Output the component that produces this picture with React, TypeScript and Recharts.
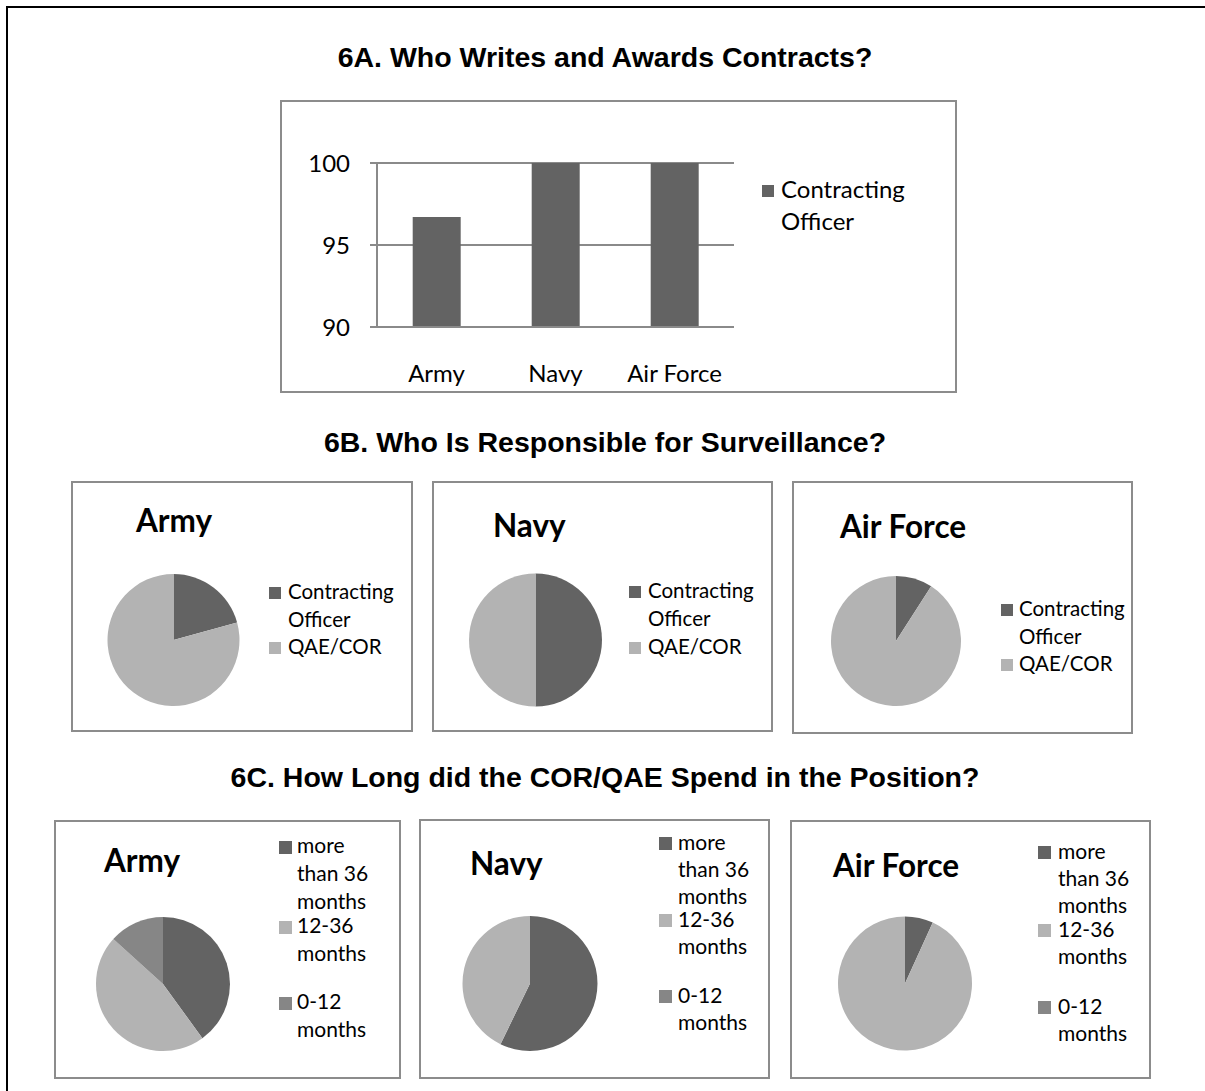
import React from 'react';
import { BarChart, Bar, XAxis, YAxis, CartesianGrid, Legend, PieChart, Pie, Cell } from 'recharts';

// ---------- DATA ----------
const services = ['Army', 'Navy', 'Air Force'];
const contractingOfficerPct = [96.7, 100, 100];
const barTicks = [90, 95, 100];
const barSeriesName = 'Contracting Officer';

const surveillanceLabels = ['Contracting Officer', 'QAE/COR'];
const surveillanceArmy = [20.7, 79.3];
const surveillanceNavy = [50, 50];
const surveillanceAirForce = [9.1, 90.9];

const tenureLabels = ['more than 36 months', '12-36 months', '0-12 months'];
const tenureArmy = [40, 46.7, 13.3];
const tenureNavy = [57.2, 42.8, 0];
const tenureAirForce = [6.8, 93.2, 0];

const sectionTitles = [
  '6A. Who Writes and Awards Contracts?',
  '6B. Who Is Responsible for Surveillance?',
  '6C. How Long did the COR/QAE Spend in the Position?',
];

// ---------- STYLE ----------
const DARK = '#636363';
const LIGHT = '#b3b3b3';
const MID = '#868686';
const AXIS = '#8a8a8a';
const BOX = '#8c8c8c';
const FONT_C = 'Lato, "Open Sans", sans-serif';
const FONT_T = '"Liberation Sans", Arial, sans-serif';
const surveillanceColors = [DARK, LIGHT];
const tenureColors = [DARK, LIGHT, MID];

type LegendOpts = {
  left: number;
  square: number;
  gap: number;
  lineHeight: number;
  fontSize: number;
  textWidth: number;
  centers: number[];
};

function makeLegend(labels: string[], colors: string[], o: LegendOpts) {
  return (props: any) => {
    const payload: any[] = props.payload || [];
    return (
      <div style={{ position: 'relative', width: o.gap + o.textWidth, height: 1 }}>
        {labels.map((label, i) => {
          const entry = payload.find((p) => p.value === label);
          const text = entry ? entry.value : label;
          const c = o.centers[i];
          const top = c - o.lineHeight / 2 - 0.087 * o.fontSize;
          return (
            <React.Fragment key={label}>
              <div
                style={{
                  position: 'absolute',
                  left: 0,
                  top: c - o.square / 2,
                  width: o.square,
                  height: o.square,
                  background: colors[i],
                }}
              />
              <div
                style={{
                  position: 'absolute',
                  left: o.gap,
                  top,
                  width: o.textWidth,
                  fontSize: o.fontSize,
                  lineHeight: o.lineHeight + 'px',
                  fontFamily: FONT_C,
                  color: '#000',
                  textAlign: 'left',
                  whiteSpace: 'normal',
                }}
              >
                {text}
              </div>
            </React.Fragment>
          );
        })}
      </div>
    );
  };
}

function Box({ left, top, width, height, children }: any) {
  return (
    <div style={{ position: 'absolute', left, top, width, height }}>
      <div
        style={{
          position: 'absolute',
          left: 0,
          top: 0,
          width,
          height,
          boxSizing: 'border-box',
          border: `2px solid ${BOX}`,
        }}
      />
      {children}
    </div>
  );
}

function SectionTitle({ text, cy }: { text: string; cy: number }) {
  const fs = 28.5;
  return (
    <div
      style={{
        position: 'absolute',
        left: 0,
        width: 1210,
        top: cy - 0.49 * fs,
        textAlign: 'center',
        fontFamily: FONT_T,
        fontWeight: 'bold',
        fontSize: fs,
        lineHeight: fs + 'px',
        color: '#000',
        whiteSpace: 'nowrap',
      }}
    >
      {text}
    </div>
  );
}

function PanelTitle({ text, left, cy }: { text: string; left: number; cy: number }) {
  const fs = 31.5;
  return (
    <div
      style={{
        position: 'absolute',
        left,
        top: cy - 0.53 * fs,
        fontFamily: FONT_C,
        fontWeight: 'bold',
        fontSize: fs,
        lineHeight: fs + 'px',
        color: '#000',
        whiteSpace: 'nowrap',
      }}
    >
      {text}
    </div>
  );
}

// ---------- 6A bar chart ----------
const barData = services.map((s, i) => ({ service: s, value: contractingOfficerPct[i] }));

function BarPanel() {
  const W = 677;
  const H = 293;
  return (
    <Box left={280} top={100} width={W} height={H}>
      <div style={{ position: 'absolute', left: 0, top: 0 }}>
        <BarChart
          width={W}
          height={H}
          data={barData}
          margin={{ top: 63, right: 223, left: 0, bottom: 0 }}
          barCategoryGap="30%"
        >
          <CartesianGrid vertical={false} stroke={AXIS} strokeWidth={2} xAxisId="cat" />
          <XAxis
            xAxisId="edge"
            type="number"
            domain={[0, 3]}
            ticks={[0, 1, 2, 3]}
            tick={false}
            tickLine={{ stroke: AXIS, strokeWidth: 2 }}
            tickSize={9}
            axisLine={false}
            height={0}
          />
          <XAxis
            xAxisId="cat"
            dataKey="service"
            tickLine={false}
            tickSize={0}
            tickMargin={38}
            axisLine={{ stroke: AXIS, strokeWidth: 2 }}
            height={66}
            tick={{ fill: '#000', fontSize: 24, fontFamily: FONT_C }}
            interval={0}
          />
          <YAxis
            domain={[90, 100]}
            ticks={barTicks}
            width={97}
            tickSize={7}
            tickMargin={20}
            tickLine={{ stroke: AXIS, strokeWidth: 2 }}
            axisLine={{ stroke: AXIS, strokeWidth: 2 }}
            tick={{ fill: '#000', fontSize: 24, fontFamily: FONT_C }}
          />
          <Bar
            xAxisId="cat"
            dataKey="value"
            name={barSeriesName}
            fill={DARK}
            isAnimationActive={false}
          />
          <Legend
            layout="vertical"
            align="center"
            verticalAlign="middle"
            wrapperStyle={{ left: 482, top: 0, width: 180, height: 1 }}
            content={makeLegend([barSeriesName], [DARK], {
              left: 482,
              square: 12,
              gap: 19,
              lineHeight: 32,
              fontSize: 24,
              textWidth: 150,
              centers: [91],
            })}
          />
        </BarChart>
      </div>
    </Box>
  );
}

// ---------- pies ----------
type PieCfg = {
  title: string;
  labels: string[];
  values: number[];
  colors: string[];
  box: [number, number, number, number];
  cx: number;
  cy: number;
  r: number;
  titleLeft: number;
  titleCy: number;
  legend: LegendOpts;
};

function PiePanel({ cfg }: { cfg: PieCfg }) {
  const [left, top, w, h] = cfg.box;
  const data = cfg.labels.map((name, i) => ({ name, value: cfg.values[i], fill: cfg.colors[i] }));
  return (
    <Box left={left} top={top} width={w} height={h}>
      <div style={{ position: 'absolute', left: 0, top: 0 }}>
        <PieChart width={w} height={h} margin={{ top: 0, right: 0, bottom: 0, left: 0 }}>
          <Pie
            data={data}
            dataKey="value"
            nameKey="name"
            cx={cfg.cx}
            cy={cfg.cy}
            outerRadius={cfg.r}
            startAngle={90}
            endAngle={-270}
            stroke="none"
            isAnimationActive={false}
          >
            {data.map((d, i) => (
              <Cell key={d.name} fill={cfg.colors[i]} />
            ))}
          </Pie>
          <Legend
            layout="vertical"
            align="center"
            verticalAlign="middle"
            wrapperStyle={{ left: cfg.legend.left, top: 0, width: cfg.legend.gap + cfg.legend.textWidth, height: 1 }}
            content={makeLegend(cfg.labels, cfg.colors, cfg.legend)}
          />
        </PieChart>
      </div>
      <PanelTitle text={cfg.title} left={cfg.titleLeft} cy={cfg.titleCy} />
    </Box>
  );
}

const sLeg = (left: number, gap: number, centers: number[]): LegendOpts => ({
  left,
  square: 12,
  gap,
  lineHeight: 28,
  fontSize: 20.5,
  textWidth: 125,
  centers,
});
const tLeg = (left: number, gap: number, centers: number[], lh: number): LegendOpts => ({
  left,
  square: 13,
  gap,
  lineHeight: lh,
  fontSize: 21,
  textWidth: 84,
  centers,
});

const surveillancePanels: PieCfg[] = [
  {
    title: services[0], labels: surveillanceLabels, values: surveillanceArmy, colors: surveillanceColors,
    box: [71, 481, 342, 251], cx: 102.5, cy: 159, r: 66, titleLeft: 65, titleCy: 41,
    legend: sLeg(198, 19, [112, 167]),
  },
  {
    title: services[1], labels: surveillanceLabels, values: surveillanceNavy, colors: surveillanceColors,
    box: [432, 481, 341, 251], cx: 103.5, cy: 159, r: 66.5, titleLeft: 61, titleCy: 46,
    legend: sLeg(197, 19, [111, 167]),
  },
  {
    title: services[2], labels: surveillanceLabels, values: surveillanceAirForce, colors: surveillanceColors,
    box: [792, 481, 341, 253], cx: 104, cy: 160, r: 65, titleLeft: 48, titleCy: 47,
    legend: sLeg(209, 18, [129, 184]),
  },
];

const tenurePanels: PieCfg[] = [
  {
    title: services[0], labels: tenureLabels, values: tenureArmy, colors: tenureColors,
    box: [54, 820, 347, 259], cx: 109, cy: 164, r: 67, titleLeft: 50, titleCy: 42,
    legend: tLeg(225, 18, [27, 107, 183], 28),
  },
  {
    title: services[1], labels: tenureLabels, values: tenureNavy, colors: tenureColors,
    box: [419, 819, 351, 260], cx: 111, cy: 164.5, r: 67.5, titleLeft: 51, titleCy: 46,
    legend: tLeg(240, 19, [24, 101, 177], 27),
  },
  {
    title: services[2], labels: tenureLabels, values: tenureAirForce, colors: tenureColors,
    box: [790, 820, 361, 259], cx: 115, cy: 163.5, r: 67, titleLeft: 43, titleCy: 47,
    legend: tLeg(248, 20, [32, 110, 187], 27),
  },
];

export default function App() {
  return (
    <div
      style={{
        position: 'absolute',
        left: 0,
        top: 0,
        width: 1205,
        height: 1091,
        background: '#fff',
        overflow: 'hidden',
      }}
    >
      <div style={{ position: 'absolute', left: 6, top: 6, width: 1199, height: 2, background: '#000' }} />
      <div style={{ position: 'absolute', left: 6, top: 6, width: 2, height: 1085, background: '#000' }} />
      <SectionTitle text={sectionTitles[0]} cy={57} />
      <BarPanel />
      <SectionTitle text={sectionTitles[1]} cy={442} />
      {surveillancePanels.map((p) => (
        <PiePanel key={'s' + p.title} cfg={p} />
      ))}
      <SectionTitle text={sectionTitles[2]} cy={777} />
      {tenurePanels.map((p) => (
        <PiePanel key={'t' + p.title} cfg={p} />
      ))}
    </div>
  );
}
